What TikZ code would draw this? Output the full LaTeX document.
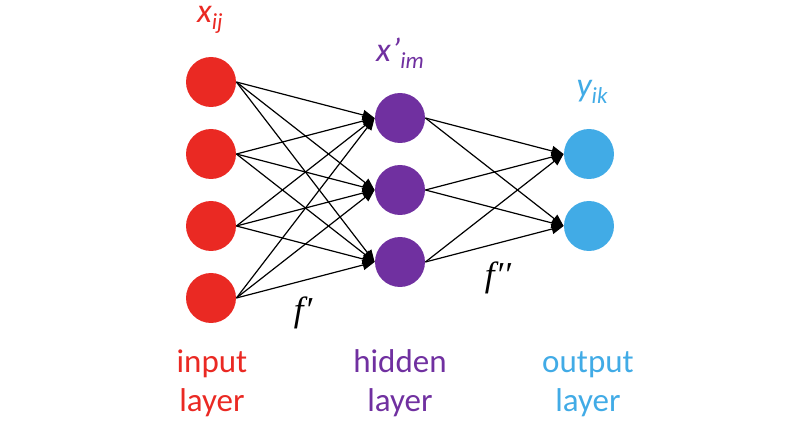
\documentclass[tikz,border=0pt]{standalone}
\usepackage{fontspec}
\setmainfont{Carlito}
\newfontfamily\fnfont{Liberation Serif}
\usetikzlibrary{arrows.meta,positioning}

\definecolor{inred}{RGB}{234,41,35}
\definecolor{hidpurple}{RGB}{112,48,160}
\definecolor{outblue}{RGB}{65,171,230}

% lowered index after a variable
\newcommand\lowidx[1]{\raisebox{-3.5pt}{\fontsize{11.5}{12}\selectfont #1}}

\begin{document}
\begin{tikzpicture}[%
    x=0.5pt, y=-0.5pt,           % pixel-like units, y going down
    node distance=36pt and 94.5pt,
    >={Triangle[length=6pt,width=5pt]},
    ]
% -------------------------------------------------
% Styles for neurons, wires and texts
\tikzset{
  neuron/.style={circle, minimum size=25pt, inner sep=0pt, on grid},
  inp/.style={neuron, fill=inred},
  hid/.style={neuron, fill=hidpurple},
  outp/.style={neuron, fill=outblue},
  wire/.style={->, draw, line width=0.6pt},
  var/.style={font=\fontsize{17}{20}\selectfont\itshape, anchor=base, inner sep=0.5pt},
  fn/.style={font=\fontsize{17.5}{20}\selectfont\fnfont\itshape},
  layer/.style={font=\fontsize{16.5}{19.5}\selectfont, align=center, anchor=base},
}
\useasboundingbox (0,0) rectangle (800,444);
% -------------------------------------------------
% Input layer
\node [inp] (i1) at (211,82) {};
\node [inp, below=of i1] (i2) {};
\node [inp, below=of i2] (i3) {};
\node [inp, below=of i3] (i4) {};
% Hidden layer
\node [hid, below right=18pt and 94.5pt of i1] (h1) {};
\node [hid, below=of h1] (h2) {};
\node [hid, below=of h2] (h3) {};
% Output layer
\node [outp, below right=18pt and 94.5pt of h1] (o1) {};
\node [outp, below=of o1] (o2) {};

% -------------------------------------------------
% Connections
\foreach \a in {1,...,4}
  \foreach \b in {1,2,3}
    \draw [wire] (i\a.east) -- (h\b.west);
\foreach \a in {1,2,3}
  \foreach \b in {1,2}
    \draw [wire] (h\a.east) -- (o\b.west);

% -------------------------------------------------
% Labels
\node [var, text=inred] (xin) at (210,23) {x\lowidx{ij}};
\node [var, text=hidpurple] (xhid) at (400,62) {x’\lowidx{im}};
\node [var, text=outblue] (yout) at (592,97) {y\lowidx{ik}};
\node [fn] (f1) at (303,313) {f\kern0.5pt′};
\node [fn] (f2) at (498,278) {f\kern0.5pt′′};
\node [layer, text=inred] (lin) at (212,412) {input\\layer};
\node [layer, text=hidpurple] (lhid) at (400,412) {hidden\\layer};
\node [layer, text=outblue] (lout) at (588,412) {output\\layer};
% -------------------------------------------------
\end{tikzpicture}
\end{document}
